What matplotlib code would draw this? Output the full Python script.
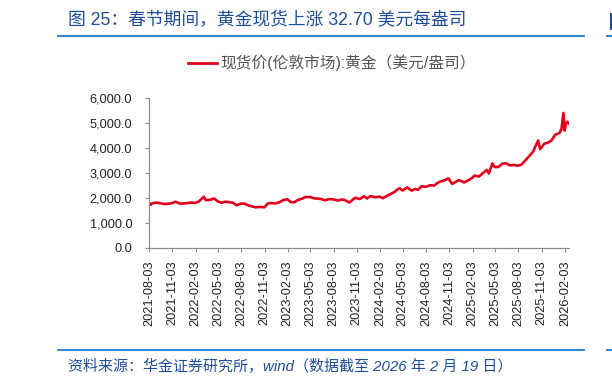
import matplotlib
matplotlib.use("Agg")
import matplotlib.pyplot as plt
import matplotlib.ticker as mticker
from matplotlib.lines import Line2D
import pandas as pd

# London spot gold, USD/oz
dates = ["2021-08-03", "2021-08-10", "2021-08-16", "2021-09-01", "2021-09-15", "2021-10-01",
         "2021-10-15", "2021-11-01", "2021-11-16", "2021-12-01", "2021-12-15", "2022-01-03",
         "2022-01-17", "2022-02-01", "2022-02-15", "2022-03-08", "2022-03-15", "2022-04-01",
         "2022-04-18", "2022-05-02", "2022-05-16", "2022-06-01", "2022-06-15", "2022-07-01",
         "2022-07-15", "2022-08-01", "2022-08-15", "2022-09-01", "2022-09-15", "2022-09-28",
         "2022-10-14", "2022-11-03", "2022-11-15", "2022-12-01", "2022-12-15", "2023-01-03",
         "2023-01-16", "2023-02-01", "2023-02-15", "2023-02-28", "2023-03-15", "2023-04-03",
         "2023-04-13", "2023-05-03", "2023-05-16", "2023-06-01", "2023-06-15", "2023-06-29",
         "2023-07-17", "2023-08-01", "2023-08-21", "2023-09-01", "2023-09-15", "2023-10-05",
         "2023-10-16", "2023-10-27", "2023-11-15", "2023-12-01", "2023-12-13", "2023-12-27",
         "2024-01-16", "2024-02-01", "2024-02-14", "2024-03-01", "2024-03-15", "2024-04-01",
         "2024-04-12", "2024-04-19", "2024-05-02", "2024-05-20", "2024-06-07", "2024-06-20",
         "2024-07-01", "2024-07-16", "2024-08-01", "2024-08-20", "2024-09-03", "2024-09-20",
         "2024-10-01", "2024-10-18", "2024-10-30", "2024-11-14", "2024-11-25", "2024-12-11",
         "2024-12-31", "2025-01-15", "2025-01-31", "2025-02-11", "2025-02-28", "2025-03-14",
         "2025-03-31", "2025-04-08", "2025-04-22", "2025-05-01", "2025-05-15", "2025-06-02",
         "2025-06-16", "2025-06-30", "2025-07-15", "2025-07-31", "2025-08-15", "2025-09-02",
         "2025-09-16", "2025-10-01", "2025-10-08", "2025-10-20", "2025-10-28", "2025-11-13",
         "2025-11-28", "2025-12-12", "2025-12-26", "2026-01-12", "2026-01-20", "2026-01-28",
         "2026-02-02", "2026-02-06", "2026-02-12", "2026-02-19"]
prices = [1812, 1730, 1787, 1815, 1795, 1760,
          1768, 1793, 1852, 1782, 1777, 1801,
          1818, 1801, 1853, 2050, 1918, 1925,
          1980, 1863, 1814, 1848, 1835, 1811,
          1708, 1772, 1779, 1697, 1665, 1625,
          1644, 1630, 1776, 1803, 1777, 1839,
          1916, 1950, 1836, 1827, 1918, 1984,
          2040, 2039, 1989, 1977, 1957, 1908,
          1955, 1944, 1894, 1940, 1924, 1820,
          1919, 2006, 1959, 2072, 1980, 2077,
          2029, 2054, 1992, 2083, 2155, 2250,
          2344, 2392, 2302, 2425, 2293, 2361,
          2325, 2469, 2446, 2513, 2493, 2621,
          2662, 2721, 2787, 2565, 2626, 2718,
          2624, 2697, 2798, 2898, 2857, 2984,
          3123, 2982, 3380, 3239, 3240, 3381,
          3385, 3303, 3325, 3290, 3336, 3534,
          3690, 3866, 4040, 4300, 3950, 4170,
          4220, 4300, 4530, 4600, 4750, 5400,
          4700, 4950, 5050, 4980]

tick_dates = ["2021-08-03", "2021-11-03", "2022-02-03", "2022-05-03", "2022-08-03", "2022-11-03",
              "2023-02-03", "2023-05-03", "2023-08-03", "2023-11-03", "2024-02-03", "2024-05-03",
              "2024-08-03", "2024-11-03", "2025-02-03", "2025-05-03", "2025-08-03", "2025-11-03",
              "2026-02-03"]

title = "图 25：春节期间，黄金现货上涨 32.70 美元每盎司"
legend_label = "现货价(伦敦市场):黄金（美元/盎司）"
source = "资料来源：华金证券研究所，wind（数据截至 2026 年 2 月 19 日）"

plt.rcParams['font.family'] = ['Liberation Sans', 'Noto Sans CJK SC', 'DejaVu Sans']

W, H = 612, 386
fig = plt.figure(figsize=(W / 100, H / 100), dpi=100)
ax = fig.add_axes([149 / W, 1 - 248 / H, (569 - 149) / W, (248 - 98) / H])

x = pd.to_datetime(dates)
ax.plot(x, prices, color="#E0001B", lw=1.9)

ax.set_ylim(0, 6000)
ax.set_xlim(pd.Timestamp("2021-08-03"), pd.Timestamp("2026-02-19"))
ax.yaxis.set_major_locator(mticker.MultipleLocator(1000))
ax.yaxis.set_major_formatter(mticker.StrMethodFormatter("{x:,.1f}"))
ax.set_xticks(pd.to_datetime(tick_dates))
ax.set_xticklabels(tick_dates, rotation=90)
for s in ["top", "right"]:
    ax.spines[s].set_visible(False)
for s in ["left", "bottom"]:
    ax.spines[s].set_color("#8C8C8C")
    ax.spines[s].set_linewidth(0.9)
ax.tick_params(axis="both", colors="#8C8C8C", length=3, width=0.8, labelsize=9.2,
               labelcolor="#222222")
ax.tick_params(axis="y", pad=9)
ax.tick_params(axis="x", pad=6)

# legend
fig.add_artist(Line2D([188 / W, 217 / W], [1 - 63 / H] * 2, color="#E0001B", lw=2))
fig.text(220 / W, 1 - 63 / H, legend_label, fontsize=11.3, color="#555555", va="center")

# title and frame lines
fig.text(68 / W, 1 - 20 / H, title, fontsize=12.8, color="#1F4E9A", va="center")
blue = "#2E86D0"
fig.add_artist(Line2D([58 / W, 584 / W], [1 - 36 / H] * 2, color=blue, lw=1.4))
fig.add_artist(Line2D([607 / W, 1], [1 - 36 / H] * 2, color=blue, lw=1.4))
fig.add_artist(Line2D([58 / W, 584 / W], [1 - 350 / H] * 2, color=blue, lw=1.4))
fig.add_artist(Line2D([607 / W, 1], [1 - 350 / H] * 2, color=blue, lw=1.4))
fig.add_artist(Line2D([611 / W, 611 / W], [1 - 14 / H, 1 - 29 / H], color="#1F4E9A", lw=1.5))

fig.text(68 / W, 1 - 366 / H, source, fontsize=10.8, color="#1F4E9A", va="center",
         style="italic")

fig.savefig("out.png", dpi=100)
